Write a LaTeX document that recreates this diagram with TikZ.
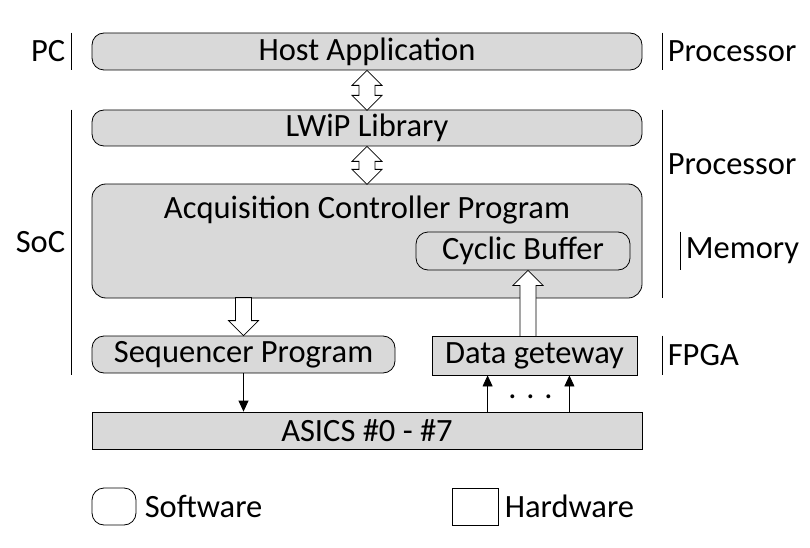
\documentclass[tikz,border=0pt]{standalone}
\usepackage{fontspec}
\setmainfont{Carlito}
\usetikzlibrary{calc,arrows.meta}
\definecolor{boxgray}{HTML}{D9D9D9}
\begin{document}
\begin{tikzpicture}[x=1pt,y=-1pt,line width=0.8pt,>={Triangle[length=11pt,width=10pt]},
  every node/.style={font=\fontsize{32.5}{38}\selectfont},
  soft/.style={draw,fill=boxgray,rounded corners=12pt,inner sep=0pt},
  hard/.style={draw,fill=boxgray,inner sep=0pt},
  fat/.style={draw,fill=white,line join=miter}]
\useasboundingbox (0,0) rectangle (810,548);

\node[soft,minimum width=550,minimum height=37] (host) at (367,51.5) {Host Application};
\node[soft,minimum width=550,minimum height=36] (lwip) at (367,128) {LWiP Library};
\node[soft,minimum width=550,minimum height=114,rounded corners=14pt] (acq) at (367,241) {};
\node (acqname) at (367,210) {Acquisition Controller Program};
\node[soft,minimum width=214,minimum height=38] (buf) at (523,251) {Cyclic Buffer};
\node[soft,minimum width=303,minimum height=37] (seq) at (243.5,354.5) {Sequencer Program};
\node[hard,minimum width=205,minimum height=39] (gw) at (534.5,355.5) {Data geteway};
\node[hard,minimum width=550,minimum height=37] (asics) at (367,430.5) {ASICS \#0 - \#7};

% legend
\node[soft,fill=white,minimum width=44,minimum height=37] (swkey) at (114,506.5) {};
\node[anchor=west,inner xsep=8] (swtext) at (swkey.east) {Software};
\node[hard,fill=white,minimum width=46,minimum height=37] (hwkey) at (475,506.5) {};
\node[anchor=west,inner xsep=6] (hwtext) at (hwkey.east) {Hardware};

% groups
\draw ($(host.north west)+(-20,0)$) -- ($(host.south west)+(-20,0)$) node[midway,left,inner xsep=6] (pc) {PC};
\draw ($(lwip.north west)+(-20,0)$) -- ($(seq.south west)+(-20,2)$) node[midway,left,inner xsep=6] (soc) {SoC};
\draw ($(host.north east)+(20,0)$) -- ($(host.south east)+(20,0)$) node[midway,right,inner xsep=5] (pcproc) {Processor};
\draw ($(lwip.north east)+(20,0)$) -- ($(acq.south east)+(20,0)$) node[pos=0.29,right,inner xsep=5] (socproc) {Processor};
\draw ($(buf.north east)+(50,0)$) -- ($(buf.south east)+(50,0)$) node[midway,right,inner xsep=5] (mem) {Memory};
\draw ($(gw.north -| asics.east)+(20,0)$) -- ($(gw.south -| asics.east)+(20,0)$) node[midway,right,inner xsep=5] (fpga) {FPGA};

% block arrows
\draw[fat] (host.south) -- ++(15,15) -- ++(-7,0) -- ++(0,10) -- ++(7,0) -- ++(-15,15)
  -- ++(-15,-15) -- ++(7,0) -- ++(0,-10) -- ++(-7,0) -- cycle;
\draw[fat] (lwip.south) -- ++(15,15) -- ++(-7,0) -- ++(0,8) -- ++(7,0) -- ++(-15,15)
  -- ++(-15,-15) -- ++(7,0) -- ++(0,-8) -- ++(-7,0) -- cycle;
\draw[fat] (seq.north) -- ++(15,-15) -- ++(-7,0) -- ++(0,-23) -- ++(-16,0) -- ++(0,23) -- ++(-7,0) -- cycle;
\draw[fat] ($(buf.south)+(5,0)$) -- ++(15,15) -- ++(-7,0) -- ++(0,51) -- ++(-16,0) -- ++(0,-51) -- ++(-7,0) -- cycle;

% signals
\draw[->] (seq.south) -- (seq.south |- asics.north);
\coordinate (in1) at ($(gw.south west)+(56,0)$);
\coordinate (in2) at ($(gw.south east)+(-68,0)$);
\draw[->] (asics.north -| in1) -- (in1);
\draw[->] (asics.north -| in2) -- (in2);
\node[anchor=base,inner sep=0pt,text height=5pt] (dots) at ($(in1)!0.5!(in2)+(2,23)$) {. . .};
\end{tikzpicture}
\end{document}
